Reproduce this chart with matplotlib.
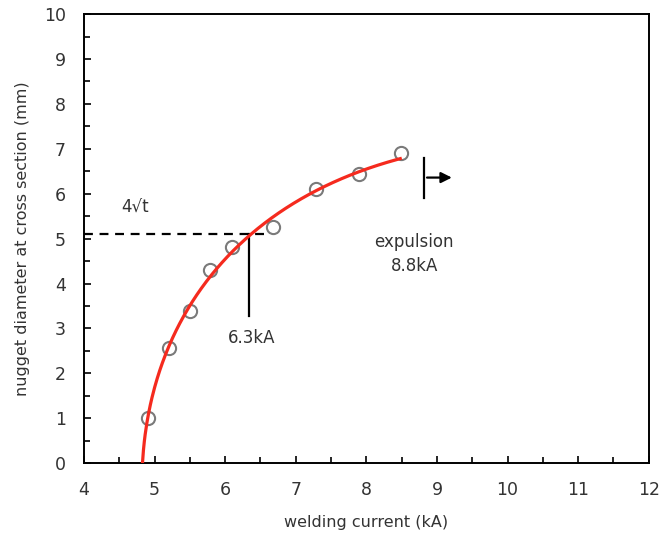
import numpy as np
import matplotlib
matplotlib.use("Agg")
import matplotlib.pyplot as plt
from matplotlib.ticker import MultipleLocator

# measured points (welding current kA, nugget diameter mm)
current = [4.90, 5.20, 5.50, 5.79, 6.09, 6.68, 7.29, 7.89, 8.49]
diameter = [1.00, 2.56, 3.39, 4.30, 4.81, 5.26, 6.10, 6.44, 6.90]

# points
curve_x = [4.83, 4.90, 5.02, 5.20, 5.49, 5.76, 6.15, 6.34, 6.76, 7.30, 7.89, 8.48]
curve_y = [0.0, 1.0, 1.89, 2.56, 3.39, 4.12, 4.79, 5.08, 5.57, 6.12, 6.46, 6.78]

crit_current = 6.34
crit_diameter = 5.1
expulsion_current = 8.82

txt = "#333333"
plt.rcParams["font.family"] = ["DejaVu Sans"]

fig = plt.figure(figsize=(6.64, 5.43), dpi=100)
ax = fig.add_axes([0.1265, 0.147, 0.8505, 0.827])

# smooth the curve: y as a polynomial of sqrt(x - x0)
x0 = 4.82
v = np.sqrt(np.array(curve_x) - x0)
coef = np.polyfit(v, curve_y, 3)
xx = np.linspace(min(curve_x), max(curve_x), 300)
ax.plot(xx, np.polyval(coef, np.sqrt(xx - x0)), color="#f52a1e", lw=2.3, zorder=3,
        clip_on=True)

ax.plot(current, diameter, "o", ms=9.5, mfc="none", mec="#7a7a7a", mew=1.5, zorder=2)

# 4*sqrt(t) criterion
ax.plot([4, 6.55], [crit_diameter, crit_diameter], "k--", lw=1.6, dashes=(4, 3))
ax.plot([crit_current, crit_current], [crit_diameter, 3.27], "k-", lw=1.6)
ax.text(4.72, 5.68, "4\u221at", fontsize=12, color=txt, ha="center", va="center")
ax.text(6.37, 2.78, "6.3kA", fontsize=12, color=txt, ha="center", va="center")

# expulsion
ax.plot([expulsion_current, expulsion_current], [5.9, 6.79], "k-", lw=1.6)
ax.annotate("", xy=(9.25, 6.36), xytext=(expulsion_current, 6.36),
            arrowprops=dict(arrowstyle="-|>", color="k", lw=1.6, mutation_scale=16))
ax.text(8.68, 4.92, "expulsion", fontsize=12, color=txt, ha="center", va="center")
ax.text(8.68, 4.39, "8.8kA", fontsize=12, color=txt, ha="center", va="center")

ax.set_xlim(4, 12)
ax.set_ylim(0, 10)
ax.xaxis.set_major_locator(MultipleLocator(1))
ax.xaxis.set_minor_locator(MultipleLocator(0.5))
ax.yaxis.set_major_locator(MultipleLocator(1))
ax.yaxis.set_minor_locator(MultipleLocator(0.5))
ax.tick_params(which="both", direction="in", top=False, right=False, colors="k",
               labelcolor=txt, labelsize=12.5, width=1.2)
ax.tick_params(which="major", length=5)
ax.tick_params(which="minor", length=4)
ax.tick_params(axis="x", pad=13)
ax.tick_params(axis="y", pad=13)
for s in ax.spines.values():
    s.set_linewidth(1.4)

ax.set_xlabel("welding current (kA)", fontsize=11.5, color=txt, labelpad=11)
ax.set_ylabel("nugget diameter at cross section (mm)", fontsize=11.5, color=txt, labelpad=10)

fig.savefig("out.png", dpi=100)
